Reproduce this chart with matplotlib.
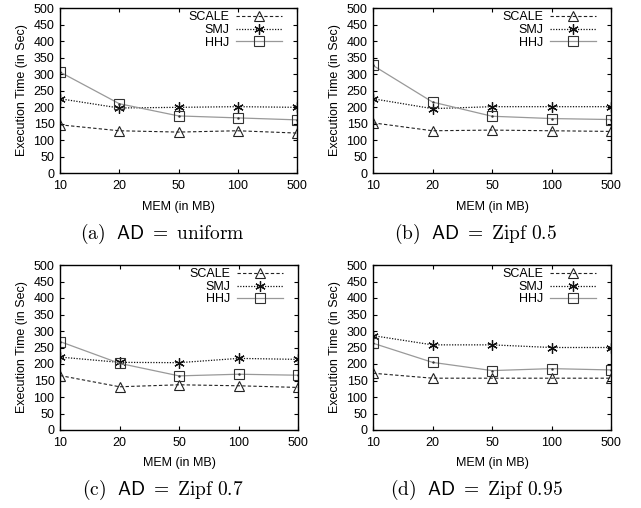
import matplotlib
matplotlib.use("Agg")
import matplotlib.pyplot as plt

plt.rcParams['font.family'] = ['Liberation Sans', 'DejaVu Sans']
plt.rcParams['mathtext.fontset'] = 'cm'

mem_labels = ['10', '20', '50', '100', '500']
panel_captions = [r'$\mathrm{(a)}\ \ \mathsf{AD}\ =\ \mathrm{uniform}$',
                  r'$\mathrm{(b)}\ \ \mathsf{AD}\ =\ \mathrm{Zipf\ 0.5}$',
                  r'$\mathrm{(c)}\ \ \mathsf{AD}\ =\ \mathrm{Zipf\ 0.7}$',
                  r'$\mathrm{(d)}\ \ \mathsf{AD}\ =\ \mathrm{Zipf\ 0.95}$']

scale_a = [146, 128, 124, 128, 121]
smj_a = [225, 197, 199, 201, 199]
hhj_a = [306, 210, 173, 167, 161]

scale_b = [152, 128, 130, 128, 126]
smj_b = [225, 195, 201, 201, 201]
hhj_b = [326, 215, 172, 165, 162]

scale_c = [165, 131, 137, 134, 129]
smj_c = [221, 205, 204, 217, 214]
hhj_c = [268, 202, 164, 169, 166]

scale_d = [172, 157, 157, 157, 157]
smj_d = [286, 258, 258, 250, 250]
hhj_d = [263, 205, 180, 186, 182]

panels = [(scale_a, smj_a, hhj_a), (scale_b, smj_b, hhj_b),
          (scale_c, smj_c, hhj_c), (scale_d, smj_d, hhj_d)]

fig = plt.figure(figsize=(6.41, 5.08), dpi=100)

W, H = 641.0, 508.0
boxes = [(60, 8, 297, 173), (373, 8, 611, 173),
         (60, 265, 298, 430), (373, 265, 611, 430)]
xlab_y = [207, 207, 463, 463]
cap_y = [234, 234, 490, 490]
FS = 9

x = list(range(len(mem_labels)))
for i, (sc, sm, hh) in enumerate(panels):
    l, t, r, b = boxes[i]
    ax = fig.add_axes([l / W, 1 - b / H, (r - l) / W, (b - t) / H])
    ax.plot(x, sc, color='#222222', linestyle=(0, (3, 2)), linewidth=0.8,
            marker='^', markersize=7, markerfacecolor='none',
            markeredgecolor='#222222', markeredgewidth=0.8, label='SCALE')
    ax.plot(x, sm, color='#111111', linestyle=(0, (1, 1.2)), linewidth=0.9,
            marker=(6, 2, 0), markersize=7.5, markeredgecolor='#111111',
            markeredgewidth=0.9, label='SMJ')
    ax.plot(x, hh, color='#999999', linestyle='-', linewidth=0.9,
            marker='s', markersize=6.5, markerfacecolor='none',
            markeredgecolor='#333333', markeredgewidth=0.8, label='HHJ')
    ax.plot(x, hh, linestyle='none', marker='.', markersize=1.5, color='#333333')
    ax.set_xlim(0, 4)
    ax.set_ylim(0, 500)
    ax.set_xticks(x)
    ax.set_xticklabels(mem_labels)
    ax.set_yticks(range(0, 501, 50))
    ax.tick_params(direction='in', top=True, right=True, length=3,
                   width=0.8, labelsize=FS)
    ax.tick_params(axis='x', pad=5)
    ax.tick_params(axis='y', pad=4)
    for s in ax.spines.values():
        s.set_linewidth(1.0)
    ax.set_ylabel('Execution Time (in Sec)', fontsize=FS, labelpad=4)
    ax.legend(loc='upper right', frameon=False, markerfirst=False,
              fontsize=FS, handlelength=3.7, handletextpad=0.5,
              labelspacing=0.05, borderaxespad=0.0, borderpad=0.1,
              bbox_to_anchor=(1 - 14 / (r - l), 1 - 2 / (b - t)))
    cx = (l + r) / 2 / W
    fig.text(cx, 1 - xlab_y[i] / H, 'MEM (in MB)', ha='center', va='center',
             fontsize=FS)
    fig.text(cx - 16 / W, 1 - cap_y[i] / H, panel_captions[i], ha='center',
             va='center', fontsize=14)

fig.savefig('out.png', dpi=100)
